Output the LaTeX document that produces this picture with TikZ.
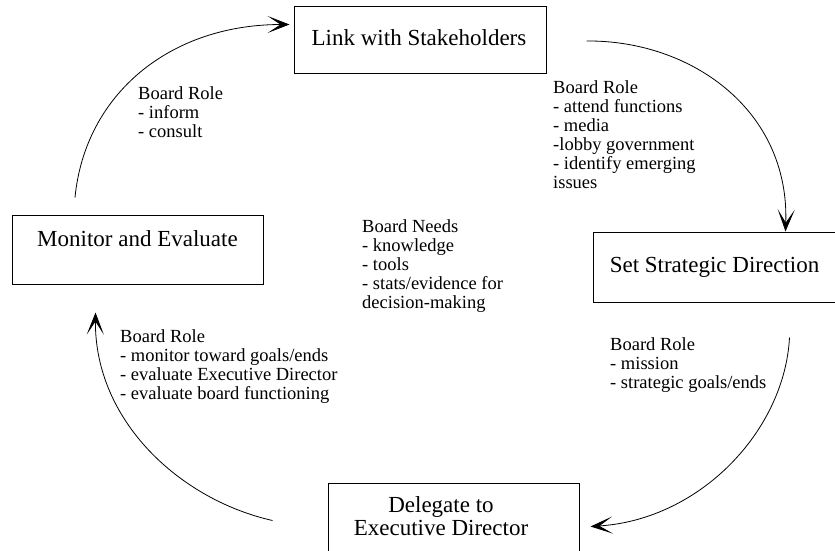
\documentclass[tikz,border=0pt]{standalone}
\usepackage{fontspec}
\setmainfont{Liberation Serif}
\usetikzlibrary{arrows.meta}

\begin{document}
\begin{tikzpicture}[x=1pt,y=-1pt,
  stagebox/.style={draw,line width=1pt,inner sep=0pt},
  stagetext/.style={font=\fontsize{23}{22.5}\selectfont,align=center,inner sep=0pt,anchor=base},
  note/.style={font=\fontsize{18.5}{19}\selectfont,align=left,inner sep=0pt,anchor=north west},
  cycle/.style={line width=0.8pt,-{Stealth[length=22pt,width=17pt,inset=13pt]}}]
\useasboundingbox (0,0) rectangle (835,550);

% the four stages of the board cycle
\node[stagebox,minimum width=252pt,minimum height=67pt] (link) at (420,39.5) {};
\node[stagebox,minimum width=245pt,minimum height=70pt] (setdir) at (715.5,267) {};
\node[stagebox,minimum width=251pt,minimum height=77pt] (deleg) at (453.5,521.5) {};
\node[stagebox,minimum width=251pt,minimum height=69pt] (mon) at (137.5,249.5) {};

\node[stagetext] (linkt) at (419,45) {Link with Stakeholders};
\node[stagetext] (setdirt) at (714.5,272) {Set Strategic Direction};
\node[stagetext] (delegt) at (441,535) {Delegate to\\Executive Director};
\node[stagetext] (mont) at (137.5,246) {Monitor and Evaluate};

% board roles along each step
\node[note] (rolelink) at (138,86) {Board Role\\- inform\\- consult};
\node[note] (roleset) at (553,80) {Board Role\\- attend functions\\- media\\-lobby government\\- identify emerging\\issues};
\node[note] (roledeleg) at (610,337) {Board Role\\- mission\\- strategic goals/ends};
\node[note] (rolemon) at (120,329) {Board Role\\- monitor toward goals/ends\\- evaluate Executive Director\\- evaluate board functioning};
\node[note] (needs) at (362,219) {Board Needs\\- knowledge\\- tools\\- stats/evidence for\\decision-making};

% connectors of the cycle
\draw[cycle] ([shift={(-62.5,-17)}]mon.north)
  .. controls +(10,-103) and +(-120,0) .. ([shift={(-4,19)}]link.north west);
\draw[cycle] ([shift={(40,1.5)}]link.east)
  .. controls +(104,-1) and +(4,-122) .. ([shift={(193,0)}]setdir.north west);
\draw[cycle] ([shift={(197,35)}]setdir.south west)
  .. controls +(-5,93) and +(110,-7) .. ([shift={(11,44)}]deleg.north east);
\draw[cycle] ([shift={(-55,38)}]deleg.north west)
  .. controls +(-93,-21) and +(-1,108) .. ([shift={(84,28)}]mon.south west);
\end{tikzpicture}
\end{document}
